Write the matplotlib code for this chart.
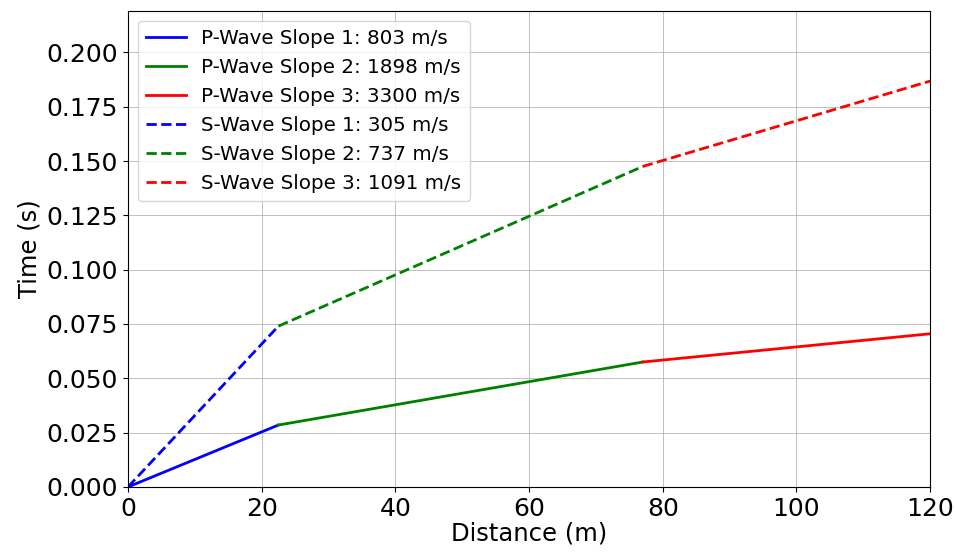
import matplotlib
matplotlib.use('Agg')
import matplotlib.pyplot as plt

# breakpoints
distance = [0, 22.5, 77, 120]
p_time = [0, 0.0285, 0.0575, 0.0705]
s_time = [0, 0.0740, 0.1475, 0.1868]
p_labels = ['P-Wave Slope 1: 803 m/s', 'P-Wave Slope 2: 1898 m/s', 'P-Wave Slope 3: 3300 m/s']
s_labels = ['S-Wave Slope 1: 305 m/s', 'S-Wave Slope 2: 737 m/s', 'S-Wave Slope 3: 1091 m/s']
colors = ['blue', 'green', 'red']

fig = plt.figure(figsize=(9.55, 5.54), dpi=100)
ax = fig.add_axes([0.134, 0.121, 0.840, 0.859])

for i in range(3):
    ax.plot(distance[i:i + 2], p_time[i:i + 2], color=colors[i], linewidth=2, label=p_labels[i])
for i in range(3):
    ax.plot(distance[i:i + 2], s_time[i:i + 2], color=colors[i], linewidth=2, linestyle='--', label=s_labels[i])

ax.set_xlim(0, 120)
ax.set_ylim(0, 0.219)
ax.set_yticks([0, 0.025, 0.05, 0.075, 0.1, 0.125, 0.15, 0.175, 0.2])
ax.set_yticklabels(['0.000', '0.025', '0.050', '0.075', '0.100', '0.125', '0.150', '0.175', '0.200'])
ax.tick_params(labelsize=18, pad=4)
ax.set_xlabel('Distance (m)', fontsize=17.5, labelpad=0)
ax.set_ylabel('Time (s)', fontsize=17.5, labelpad=3)
ax.grid(True, color='#b0b0b0', linewidth=0.7, alpha=0.8)
ax.legend(loc='upper left', fontsize=14.3)

plt.savefig('out.png', dpi=100)
